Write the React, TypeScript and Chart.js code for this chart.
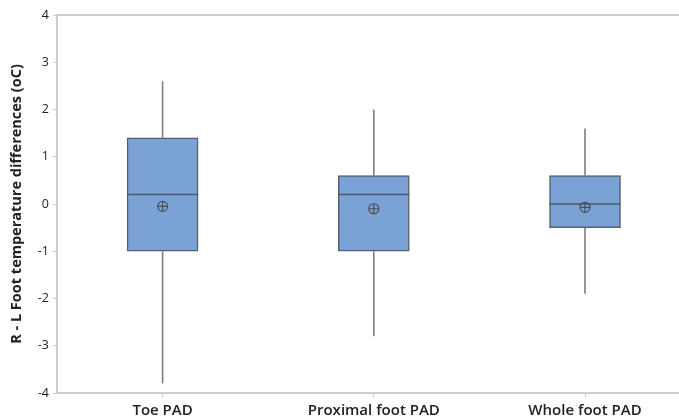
import React, { useEffect, useRef } from 'react';
import { Chart, registerables } from 'chart.js';

Chart.register(...registerables);

const categories = ['Toe PAD', 'Proximal foot PAD', 'Whole foot PAD'];
const whiskerLow = [-3.8, -2.8, -1.9];
const q1 = [-1.0, -1.0, -0.5];
const median = [0.2, 0.2, 0.0];
const q3 = [1.4, 0.6, 0.6];
const whiskerHigh = [2.6, 2.0, 1.6];
const means = [-0.05, -0.1, -0.07];
const yTickValues = [-4, -3, -2, -1, 0, 1, 2, 3, 4];

const FONT = '"Open Sans", "Noto Sans", sans-serif';

const boxExtras = {
  id: 'boxExtras',
  afterDatasetsDraw(chart: any) {
    const ctx = chart.ctx;
    const xs = chart.scales.x;
    const ys = chart.scales.y;
    const meta = chart.getDatasetMeta(0);
    ctx.save();
    categories.forEach((_, i) => {
      const x = xs.getPixelForValue(i);
      const bar = meta.data[i];
      const half = bar.width / 2;
      // whiskers
      ctx.strokeStyle = '#7d7d7d';
      ctx.lineWidth = 1.6;
      ctx.beginPath();
      ctx.moveTo(x, ys.getPixelForValue(q3[i]));
      ctx.lineTo(x, ys.getPixelForValue(whiskerHigh[i]));
      ctx.moveTo(x, ys.getPixelForValue(q1[i]));
      ctx.lineTo(x, ys.getPixelForValue(whiskerLow[i]));
      ctx.stroke();
      // median
      ctx.strokeStyle = '#4f5a68';
      ctx.lineWidth = 1.5;
      const my = ys.getPixelForValue(median[i]);
      ctx.beginPath();
      ctx.moveTo(x - half, my);
      ctx.lineTo(x + half, my);
      ctx.stroke();
      // mean marker
      const ay = ys.getPixelForValue(means[i]);
      ctx.strokeStyle = '#4a4f57';
      ctx.lineWidth = 1.2;
      ctx.beginPath();
      ctx.arc(x, ay, 5, 0, Math.PI * 2);
      ctx.moveTo(x - 5, ay);
      ctx.lineTo(x + 5, ay);
      ctx.moveTo(x, ay - 5);
      ctx.lineTo(x, ay + 5);
      ctx.stroke();
    });
    // top frame line
    const area = chart.chartArea;
    ctx.strokeStyle = '#cdcdcd';
    ctx.lineWidth = 2;
    ctx.beginPath();
    ctx.moveTo(area.left, area.top);
    ctx.lineTo(chart.width, area.top);
    ctx.stroke();
    ctx.restore();
  },
};

export default function App() {
  const ref = useRef<HTMLCanvasElement>(null);
  useEffect(() => {
    document.body.style.margin = '0';
    const chart = new Chart(ref.current!, {
      type: 'bar',
      data: {
        datasets: [
          {
            data: categories.map((_, i) => ({ x: i, y: [q1[i], q3[i]] })) as any,
            backgroundColor: '#7ba2d5',
            borderColor: '#56606c',
            borderWidth: 1.5,
            borderSkipped: false,
            barThickness: 71,
          },
        ],
      },
      options: {
        animation: false,
        responsive: false,
        maintainAspectRatio: false,
        layout: { padding: { top: 15, right: 0, left: 0, bottom: 0 } },
        plugins: { legend: { display: false }, tooltip: { enabled: false } },
        scales: {
          x: {
            type: 'linear',
            offset: false,
            min: -0.5,
            max: 2.445,
            afterBuildTicks: (s: any) => {
              s.ticks = categories.map((_, i) => ({ value: i }));
            },
            afterFit: (s: any) => {
              s.height = 27;
            },
            grid: { display: true, offset: false, drawOnChartArea: false, tickLength: 4, color: '#cdcdcd' },
            border: { display: true, color: '#cdcdcd', width: 2 },
            ticks: {
              autoSkip: false,
              maxRotation: 0,
              padding: 5,
              color: '#222222',
              font: { family: FONT, size: 15, weight: '600' as any },
              callback: (v: any) => categories[v as number] ?? '',
            },
          },
          y: {
            min: -4,
            max: 4,
            afterBuildTicks: (s: any) => {
              s.ticks = yTickValues.map((v) => ({ value: v }));
            },
            afterFit: (s: any) => {
              s.width = 57;
            },
            grid: { display: true, drawOnChartArea: false, tickLength: 4, color: '#cdcdcd' },
            border: { display: true, color: '#cdcdcd', width: 2 },
            ticks: {
              padding: 4,
              color: '#222222',
              font: { family: FONT, size: 12.5 },
            },
            title: {
              display: true,
              text: 'R - L Foot temperature differences (oC)',
              color: '#222222',
              font: { family: FONT, size: 14.5, weight: 'bold' as any },
              padding: { top: 8, bottom: 0 },
            },
          },
        },
      },
      plugins: [boxExtras],
    });
    return () => chart.destroy();
  }, []);
  return (
    <div style={{ width: 679, height: 420, overflow: 'hidden' }}>
      <canvas ref={ref} width={679} height={420} style={{ display: 'block' }} />
    </div>
  );
}
